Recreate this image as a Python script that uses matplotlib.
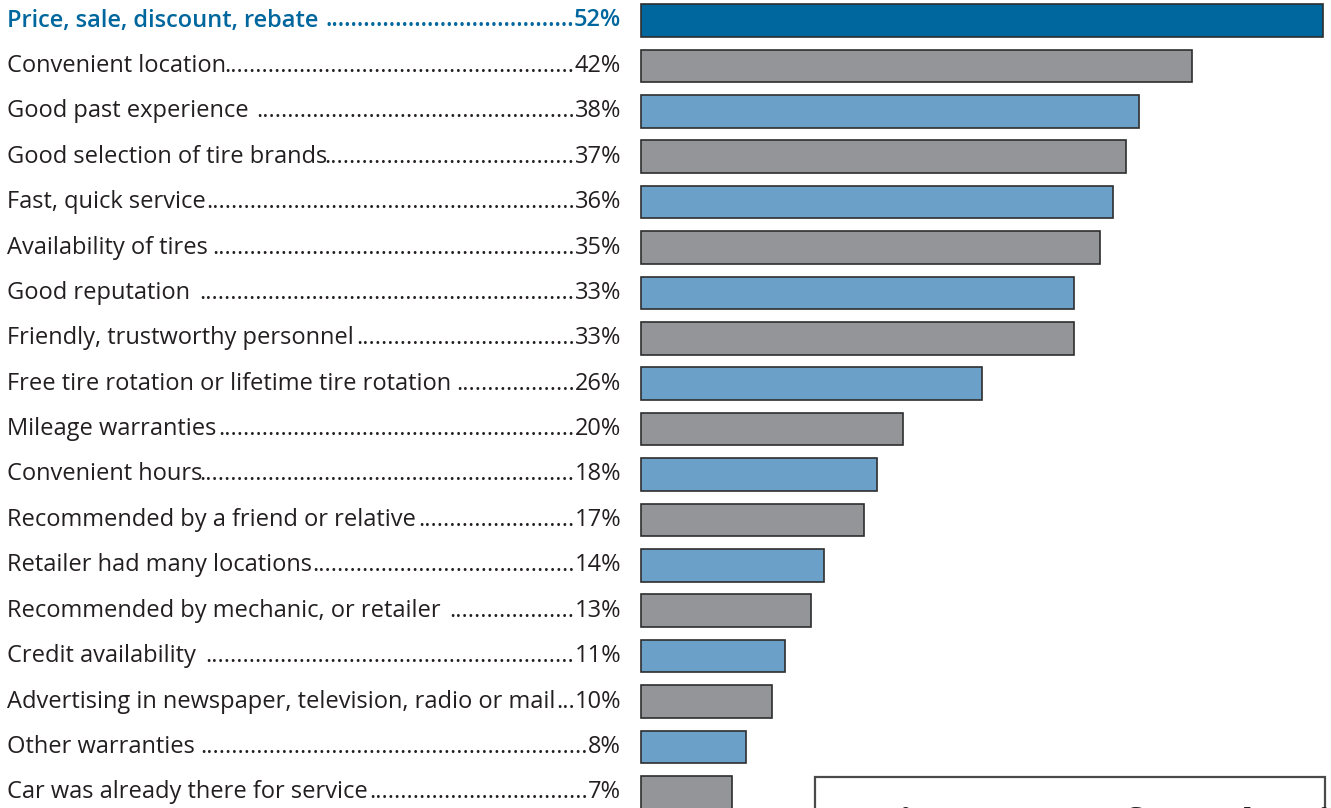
import matplotlib
matplotlib.use('Agg')
import matplotlib.pyplot as plt
from matplotlib.patches import Rectangle

plt.rcParams['font.family'] = ['Open Sans', 'DejaVu Sans']

labels = ['Price, sale, discount, rebate',
          'Convenient location',
          'Good past experience',
          'Good selection of tire brands',
          'Fast, quick service',
          'Availability of tires',
          'Good reputation',
          'Friendly, trustworthy personnel',
          'Free tire rotation or lifetime tire rotation',
          'Mileage warranties',
          'Convenient hours',
          'Recommended by a friend or relative',
          'Retailer had many locations',
          'Recommended by mechanic, or retailer',
          'Credit availability',
          'Advertising in newspaper, television, radio or mail',
          'Other warranties',
          'Car was already there for service']
values = [52, 42, 38, 37, 36, 35, 33, 33, 26, 20, 18, 17, 14, 13, 11, 10, 8, 7]
# rows where the reference puts a space before the leader dots
spaced = [0, 2, 5, 6, 8, 13, 14, 16]
box_title = 'Main reasons for selecting a retailer'

W, H = 1331, 808
fig = plt.figure(figsize=(W/100, H/100), dpi=100)
ax = fig.add_axes([640/W, 0, (W-640)/W, 1])

dark_blue = '#00679e'
light_blue = '#6ba1c9'
grey = '#939598'
txt_col = '#231f20'

colors = [dark_blue] + [grey if i % 2 == 1 else light_blue for i in range(1, len(values))]
ys = list(range(len(values)))
ax.barh(ys, values, height=0.72, color=colors, edgecolor='#2e2e2e', lw=1.2, left=0)

px_per = 13.13
ax.set_xlim(-0.05, (W-640)/px_per)
sp = 45.4
ax.set_ylim((H-20.5)/sp, -20.5/sp)
ax.axis('off')

# labels with dot leaders
fig.canvas.draw()
r = fig.canvas.get_renderer()
fs = 17
for i, (lab, v) in enumerate(zip(labels, values)):
    yf = 1 - (20.5 + i*sp)/H
    if i == 0:
        kw = dict(color=dark_blue, fontweight='semibold')
    else:
        kw = dict(color=txt_col)
    t1 = fig.text(7/W, yf, lab, fontsize=fs, va='center', ha='left', **kw)
    t2 = fig.text(621/W, yf, '%d%%' % v, fontsize=fs, va='center', ha='right', **kw)
    e1 = t1.get_window_extent(r)
    e2 = t2.get_window_extent(r)
    probe = fig.text(0, 0, '.'*100, fontsize=fs, **kw)
    dw = probe.get_window_extent(r).width/100
    probe.remove()
    x0 = e1.x1 + (7 if i in spaced else 0)
    n = int(round((e2.x0 - x0)/dw))
    fig.text(e2.x0/W, yf, '.'*n, fontsize=fs, va='center', ha='right', **kw)

# box at bottom right (cropped by the image edge)
fig.patches.append(Rectangle((815/W, -0.2), (1325-815)/W, 0.2 + 1 - 777/H,
                             transform=fig.transFigure, facecolor='white',
                             edgecolor='#4a4a4a', lw=1.6))
fig.text(835/W, 1 - 838/H, box_title, fontsize=30, fontweight='bold',
         color=txt_col, va='baseline', ha='left')

plt.savefig('out.png', dpi=100)
plt.close()
